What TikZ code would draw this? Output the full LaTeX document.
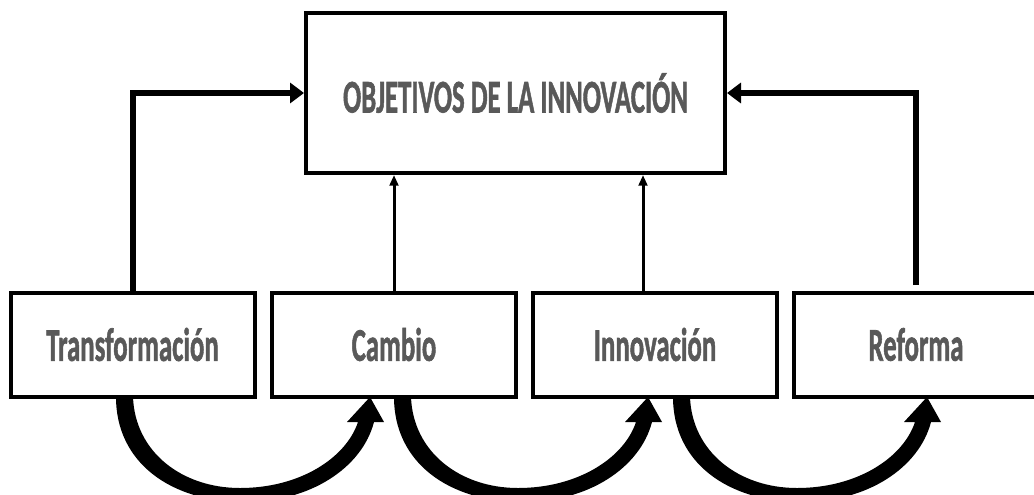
\documentclass[tikz,border=0pt]{standalone}
\usepackage{fontspec}
\setmainfont{Carlito}[BoldFeatures={FakeBold=1.6}]
\usetikzlibrary{arrows.meta}

\tikzset{every picture/.style={line width=0.75pt}}
\tikzset{
  box/.style={draw, line width=3pt, minimum width=183pt, minimum height=78pt, inner sep=0pt,
    text=black!65, font=\bfseries\fontsize{31.4}{36}\selectfont},
  thickarrow/.style={line width=4.5pt, -{Triangle[length=10.5pt,width=15pt]}},
  thinarrow/.style={line width=2.25pt, -{Triangle[length=8pt,width=6.5pt]}},
}
\newcommand{\narrow}[1]{\scalebox{0.64}[1.12]{#1}}
% curved block arrow, shifted along x
\newcommand{\bentarrow}[1]{%
  \begin{scope}[shift={(#1,0)}]
    \fill (116,397) -- (133,397) .. controls (135,452) and (182,488) .. (240,488) .. controls (300,488) and (346,458) .. (358,422) -- (347,422) -- (370,397) -- (384,422) -- (374,422) .. controls (362,468) and (310,502) .. (245,502) .. controls (170,502) and (116,462) .. (116,397) -- cycle ;
  \end{scope}}

\begin{document}
\begin{tikzpicture}[x=0.75pt,y=0.75pt,yscale=-1,xscale=1]
    \useasboundingbox (0,0) rectangle (1034,494);
    \clip (0,0) rectangle (1034,494);

    %Shape: Rectangle
    \node [box, minimum width=314.25pt, minimum height=120pt] (obj) at (515.5,93) {\narrow{OBJETIVOS DE LA INNOVACIÓN}};
    %Shape: Rectangle
    \node [box] (trans) at (132.5,344.5) {\narrow{Transformación}};
    \node [box] (cambio) at (394,344.5) {\narrow{Cambio}};
    \node [box] (innov) at (655,344.5) {\narrow{Innovación}};
    \node [box] (ref) at (916,344.5) {\narrow{Reforma}};

    %Straight Lines
    \draw [thickarrow] (trans.north) |- (obj.west) ;
    \draw [thickarrow] ([yshift=-4pt]ref.north) |- (obj.east) ;
    \draw [thinarrow] (cambio.north) -- (cambio.north |- obj.south) ;
    \draw [thinarrow] ([xshift=-9pt]innov.north) -- ([xshift=-9pt]innov.north |- obj.south) ;

    %Curve Lines
    \bentarrow{0}
    \bentarrow{278}
    \bentarrow{557}

\end{tikzpicture}
\end{document}
